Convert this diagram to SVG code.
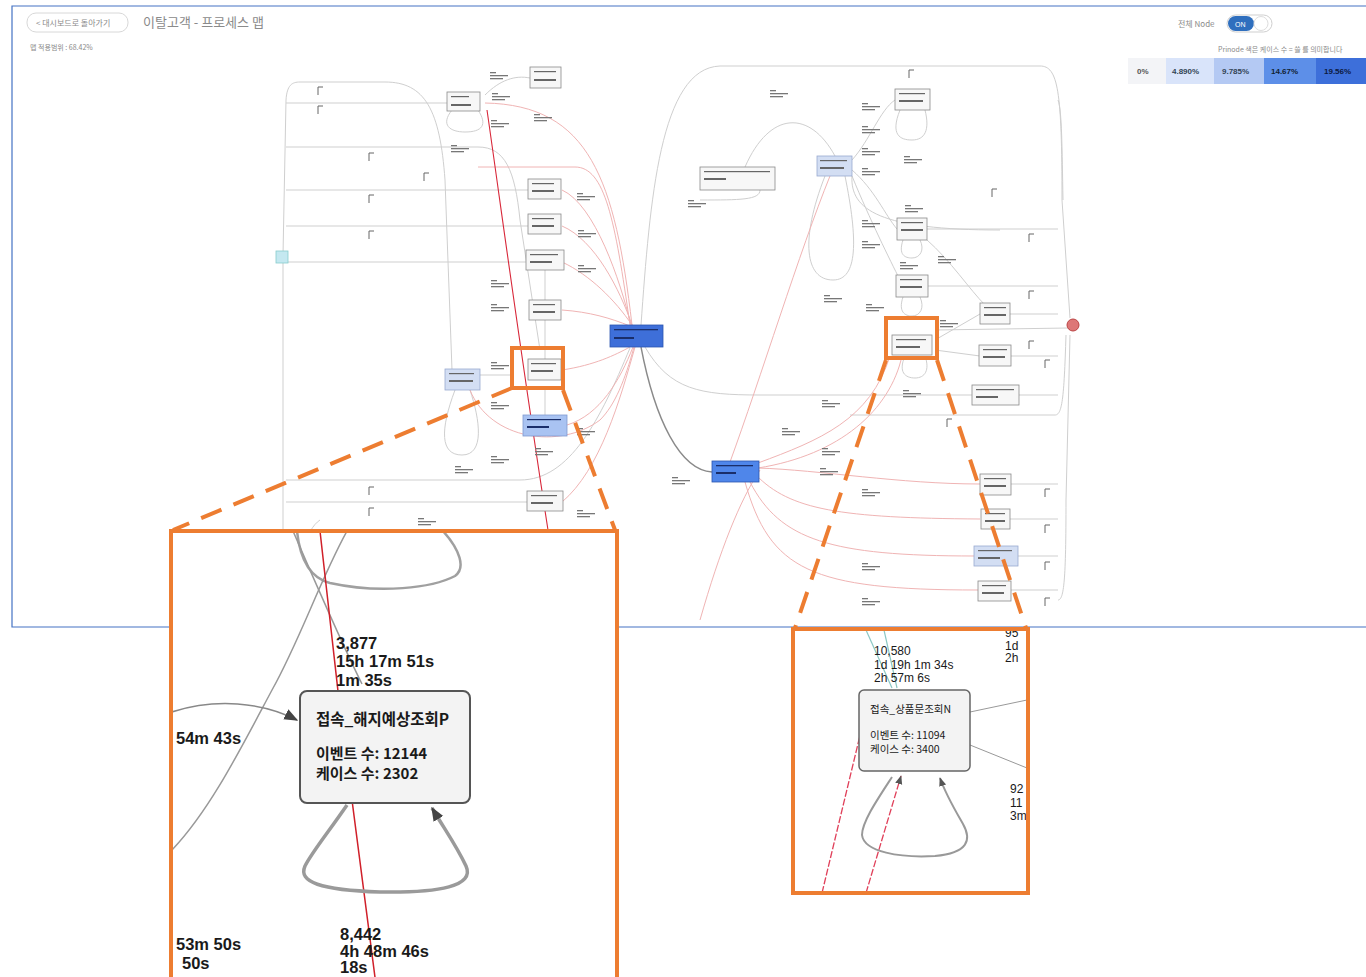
<svg xmlns="http://www.w3.org/2000/svg" xmlns:xlink="http://www.w3.org/1999/xlink" width="1366" height="977" viewBox="0 0 1366 977">
<style>
.frame{stroke:#4472c4;stroke-width:1.2;fill:none}
.e{fill:none;stroke:#cfcfcf;stroke-width:1}
.ep{fill:none;stroke:#f0b4b4;stroke-width:1}
.er{fill:none;stroke:#d8283a;stroke-width:1.1}
.ed{fill:none;stroke:#8a8a8a;stroke-width:1.4}
.n{fill:#f7f7f7;stroke:#8a8a8a;stroke-width:0.8}
.b{fill:#666}
.bw{fill:#1a2e6a}
.orange{fill:none;stroke:#ed7d31;stroke-width:4}
.dash{fill:none;stroke:#ed7d31;stroke-width:4;stroke-dasharray:22 13}
.t{font-family:"Liberation Sans","Noto Sans CJK KR",sans-serif;fill:#1a1a1a}
.k{font-family:"Noto Sans CJK KR","Liberation Sans",sans-serif;fill:#1a1a1a}
.ui{font-family:"Noto Sans CJK KR","Liberation Sans",sans-serif;fill:#8a8a8a}
</style>
<defs>
<g id="lb"><rect x="0" y="0" width="6" height="1.3" fill="#777"/><rect x="0" y="3" width="18" height="1.3" fill="#777"/><rect x="0" y="6" width="13" height="1.3" fill="#777"/></g>
<path id="tk" d="M0,8 L0,0 L5,0" fill="none" stroke="#666" stroke-width="1"/>
<marker id="ah" viewBox="0 0 10 10" refX="9" refY="5" markerUnits="userSpaceOnUse" markerWidth="14" markerHeight="14" orient="auto-start-reverse"><path d="M0,1 L10,5 L0,9 z" fill="#444"/></marker>
<marker id="ah2" viewBox="0 0 10 10" refX="9" refY="5" markerUnits="userSpaceOnUse" markerWidth="9" markerHeight="9" orient="auto-start-reverse"><path d="M0,1 L10,5 L0,9 z" fill="#555"/></marker>
<clipPath id="cl"><rect x="173" y="532" width="442" height="445"/></clipPath>
<clipPath id="cr"><rect x="795" y="630" width="231" height="261"/></clipPath>
</defs>
<rect width="1366" height="977" fill="#ffffff"/>

<!-- screenshot frame -->
<path class="frame" d="M1366,6 L12,6 L12,627 L1366,627"/>

<!-- header -->
<g id="header">
<rect x="27" y="13" width="101" height="19" rx="9" fill="#fff" stroke="#d8d8d8" stroke-width="1"/>
<text class="ui" x="36" y="26" font-size="8">&lt; 대시보드로 돌아가기</text>
<text class="ui" x="143" y="27" font-size="13">이탈고객 - 프로세스 맵</text>
<text class="ui" x="30" y="50" font-size="7" fill="#777">맵 적용범위 : 68.42%</text>
<text class="ui" x="1178" y="27" font-size="8">전체 Node</text>
<rect x="1227" y="15" width="45" height="17" rx="8.5" fill="#fff" stroke="#cfcfcf"/>
<rect x="1228" y="16" width="26" height="15" rx="7.5" fill="#2f6fbe"/>
<text x="1235" y="27" font-size="7" fill="#fff" font-family="Liberation Sans,sans-serif">ON</text>
<circle cx="1261" cy="23.5" r="7" fill="#fff" stroke="#ddd"/>
<text class="ui" x="1218" y="52" font-size="7">Prinode 색은 케이스 수 = 쓸 를 의미합니다</text>
</g>
<g id="legend" font-family="Liberation Sans,sans-serif" font-size="8" font-weight="bold">
<rect x="1128" y="58" width="38" height="26" fill="#f3f4f7"/>
<rect x="1166" y="58" width="48" height="26" fill="#d9e4fa"/>
<rect x="1214" y="58" width="50" height="26" fill="#b4c9f3"/>
<rect x="1264" y="58" width="52" height="26" fill="#5d8fe8"/>
<rect x="1316" y="58" width="50" height="26" fill="#3d6fda"/>
<text x="1137" y="74" fill="#555">0%</text>
<text x="1172" y="74" fill="#345">4.890%</text>
<text x="1222" y="74" fill="#345">9.785%</text>
<text x="1271" y="74" fill="#123">14.67%</text>
<text x="1324" y="74" fill="#0d1a40">19.56%</text>
</g>

<!-- main graph connectors -->
<g id="connectors">
<path class="e" d="M283,255 L283,600"/>
<path class="e" d="M283,255 L286,100 C287,85 292,82 300,82 L385,82 C425,82 440,110 445,180 L452,370"/>
<path class="e" d="M286,103 L447,103"/>
<path class="e" d="M286,147 L478,147 C505,147 515,170 520,220 L540,350"/>
<path class="e" d="M286,190 L528,190"/>
<path class="e" d="M286,226 L528,226"/>
<path class="e" d="M286,262 L528,262"/>
<path class="e" d="M286,480 L520,480 C570,480 600,420 630,348"/>
<path class="e" d="M286,502 L528,502"/>
<path class="e" d="M290,600 C300,560 305,530 320,520"/>
<path class="e" d="M485,95 C500,80 515,75 530,78"/>
<path class="e" d="M545,270 L545,300"/>
<path class="e" d="M545,320 L545,360"/>
<path class="e" d="M545,390 L545,415"/>
<path class="e" d="M480,375 L512,375"/>
<path class="e" d="M455,390 C440,430 440,455 462,455 C485,455 480,420 470,390"/>
<path class="e" d="M452,110 C440,125 450,132 465,132 C482,132 488,125 478,110"/>
<path class="ep" d="M485,103 C590,105 615,180 632,325"/>
<path class="ep" d="M478,167 L575,167 C605,167 615,220 630,325"/>
<path class="ep" d="M562,190 C595,205 620,280 631,325"/>
<path class="ep" d="M562,226 C595,240 620,290 632,325"/>
<path class="ep" d="M562,262 C590,275 615,300 632,325"/>
<path class="ep" d="M562,310 C590,312 610,318 630,326"/>
<path class="ep" d="M562,370 C595,365 615,355 630,347"/>
<path class="ep" d="M567,425 C600,415 620,380 633,347"/>
<path class="ep" d="M470,390 C490,440 560,450 600,420 C615,405 625,380 634,347"/>
<path class="ep" d="M562,502 C600,470 620,400 635,347"/>
<path class="er" d="M487,110 C500,200 520,350 548,530"/>
<path class="ed" d="M641,347 C655,420 680,470 712,472"/>
<path class="e" d="M641,325 C650,200 660,68 720,66 L1040,66 C1058,66 1062,90 1062,200 L1070,318"/>
<path class="e" d="M645,347 C670,390 700,395 760,395 L975,395"/>
<path class="e" d="M850,415 L1055,415 C1062,415 1064,400 1066,335"/>
<path class="e" d="M835,156 C810,110 770,110 745,167"/>
<path class="e" d="M825,176 C800,240 805,280 833,280 C858,280 858,240 845,176"/>
<path class="e" d="M760,190 C760,200 740,200 700,200"/>
<path class="e" d="M852,160 C870,140 880,110 895,100"/>
<path class="e" d="M852,170 C875,190 885,215 897,229"/>
<path class="e" d="M852,176 C870,220 890,260 900,280"/>
<path class="e" d="M900,110 C890,135 900,140 912,140 C925,140 930,130 925,110"/>
<path class="e" d="M903,240 C898,255 905,258 912,258 C920,258 925,250 920,240"/>
<path class="e" d="M903,297 C898,312 905,316 912,316 C920,316 925,308 920,297"/>
<path class="e" d="M905,356 C898,372 905,378 915,378 C925,378 930,370 925,356"/>
<path class="e" d="M927,229 L1058,229"/>
<path class="e" d="M927,286 L1058,286"/>
<path class="e" d="M935,330 L1068,328"/>
<path class="e" d="M935,340 L980,314"/>
<path class="e" d="M935,350 L980,356"/>
<path class="e" d="M927,240 C950,260 970,290 985,305"/>
<path class="e" d="M852,176 C850,210 880,230 1000,230"/>
<path class="e" d="M1010,314 L1058,314"/>
<path class="e" d="M1010,356 L1058,356"/>
<path class="e" d="M1018,395 L1058,395"/>
<path class="e" d="M1010,484 L1058,484"/>
<path class="e" d="M1010,519 L1058,519"/>
<path class="e" d="M1018,556 L1058,556"/>
<path class="e" d="M1010,590 L1058,590"/>
<path class="e" d="M1058,600 C1064,600 1066,580 1066,500 L1070,335"/>
<path class="e" d="M1058,100 C1062,110 1062,150 1063,200"/>
<path class="ep" d="M758,468 C820,470 900,484 980,484"/>
<path class="ep" d="M756,475 C790,510 840,518 980,519"/>
<path class="ep" d="M750,482 C780,540 830,556 975,556"/>
<path class="ep" d="M745,482 C770,570 810,590 978,590"/>
<path class="ep" d="M758,463 C820,440 870,420 890,356"/>
<path class="ep" d="M758,468 C840,455 890,410 902,356"/>
<path class="ep" d="M730,462 C760,380 800,250 830,176"/>
<path class="ep" d="M700,620 C720,550 740,500 760,470"/>
</g>

<!-- small marks (illegible edge labels) -->
<g id="marks">
<use href="#lb" x="490" y="72"/><use href="#lb" x="492" y="93"/><use href="#lb" x="491" y="120"/><use href="#lb" x="534" y="114"/>
<use href="#lb" x="451" y="145"/><use href="#lb" x="577" y="193"/><use href="#lb" x="578" y="230"/><use href="#lb" x="578" y="265"/>
<use href="#lb" x="491" y="280"/><use href="#lb" x="491" y="304"/><use href="#lb" x="491" y="362"/><use href="#lb" x="491" y="402"/>
<use href="#lb" x="535" y="448"/><use href="#lb" x="577" y="428"/><use href="#lb" x="455" y="466"/><use href="#lb" x="491" y="456"/>
<use href="#lb" x="577" y="510"/><use href="#lb" x="418" y="518"/>
<use href="#lb" x="770" y="90"/><use href="#lb" x="688" y="200"/><use href="#lb" x="862" y="103"/><use href="#lb" x="862" y="126"/>
<use href="#lb" x="862" y="148"/><use href="#lb" x="862" y="168"/><use href="#lb" x="904" y="156"/><use href="#lb" x="862" y="220"/>
<use href="#lb" x="862" y="241"/><use href="#lb" x="824" y="295"/><use href="#lb" x="866" y="304"/><use href="#lb" x="938" y="256"/>
<use href="#lb" x="940" y="320"/><use href="#lb" x="903" y="390"/><use href="#lb" x="822" y="400"/><use href="#lb" x="782" y="428"/>
<use href="#lb" x="822" y="448"/><use href="#lb" x="820" y="468"/><use href="#lb" x="862" y="489"/><use href="#lb" x="672" y="477"/>
<use href="#lb" x="862" y="563"/><use href="#lb" x="862" y="598"/><use href="#lb" x="905" y="205"/><use href="#lb" x="900" y="262"/>
<use href="#tk" x="318" y="87"/><use href="#tk" x="318" y="106"/><use href="#tk" x="369" y="153"/><use href="#tk" x="424" y="173"/>
<use href="#tk" x="369" y="195"/><use href="#tk" x="369" y="231"/><use href="#tk" x="369" y="487"/><use href="#tk" x="369" y="508"/>
<use href="#tk" x="909" y="70"/><use href="#tk" x="992" y="189"/><use href="#tk" x="1029" y="234"/><use href="#tk" x="1029" y="291"/>
<use href="#tk" x="1029" y="341"/><use href="#tk" x="1045" y="360"/><use href="#tk" x="947" y="419"/><use href="#tk" x="1045" y="489"/>
<use href="#tk" x="1045" y="525"/><use href="#tk" x="1045" y="562"/><use href="#tk" x="1045" y="598"/>
</g>

<!-- main graph nodes -->
<g id="node-start"><rect x="276" y="251" width="12" height="12" fill="#c4e8f0" stroke="#8cc" stroke-width="0.8"/></g>
<g id="node-l1"><rect class="n" x="447" y="92" width="33" height="19"/><rect class="b" x="451" y="96" width="18" height="1.2"/><rect class="b" x="451" y="104" width="20" height="2"/></g>
<g id="node-l2"><rect class="n" x="530" y="67" width="31" height="21"/><rect class="b" x="534" y="71" width="22" height="1.2"/><rect class="b" x="534" y="79" width="22" height="2"/></g>
<g id="node-l3"><rect class="n" x="528" y="179" width="33" height="20"/><rect class="b" x="532" y="183" width="22" height="1.2"/><rect class="b" x="532" y="190" width="22" height="2"/></g>
<g id="node-l4"><rect class="n" x="528" y="214" width="33" height="20"/><rect class="b" x="532" y="218" width="22" height="1.2"/><rect class="b" x="532" y="225" width="22" height="2"/></g>
<g id="node-l5"><rect class="n" x="526" y="250" width="38" height="20"/><rect class="b" x="530" y="254" width="28" height="1.2"/><rect class="b" x="530" y="261" width="22" height="2"/></g>
<g id="node-l6"><rect class="n" x="529" y="300" width="32" height="20"/><rect class="b" x="533" y="304" width="22" height="1.2"/><rect class="b" x="533" y="311" width="22" height="2"/></g>
<g id="node-l7"><rect class="n" x="528" y="359" width="33" height="21"/><rect class="b" x="531" y="363" width="25" height="1.2"/><rect class="b" x="531" y="370" width="22" height="2"/></g>
<g id="node-l8"><rect x="445" y="369" width="35" height="21" fill="#d3def3" stroke="#9aaad0" stroke-width="0.8"/><rect class="b" x="449" y="373" width="25" height="1.2"/><rect class="b" x="449" y="380" width="24" height="2"/></g>
<g id="node-l9"><rect x="523" y="415" width="44" height="21" fill="#a9c3f2" stroke="#7f9ad0" stroke-width="0.8"/><rect class="bw" x="527" y="419" width="34" height="1.2"/><rect class="bw" x="527" y="426" width="22" height="2"/></g>
<g id="node-l10"><rect class="n" x="527" y="491" width="36" height="20"/><rect class="b" x="531" y="495" width="26" height="1.2"/><rect class="b" x="531" y="502" width="22" height="2"/></g>
<g id="node-hub1"><rect x="610" y="325" width="53" height="22" fill="#3e6fd9" stroke="#2b56b0" stroke-width="0.8"/><rect class="bw" x="614" y="329" width="44" height="1.3"/><rect class="bw" x="614" y="337" width="20" height="2"/></g>
<g id="node-hub2"><rect x="712" y="461" width="47" height="21" fill="#4f86ea" stroke="#2b56b0" stroke-width="0.8"/><rect class="bw" x="716" y="465" width="37" height="1.3"/><rect class="bw" x="716" y="472" width="20" height="2"/></g>
<g id="node-r1"><rect x="817" y="156" width="35" height="20" fill="#d3def3" stroke="#9aaad0" stroke-width="0.8"/><rect class="b" x="820" y="160" width="27" height="1.2"/><rect class="b" x="820" y="167" width="24" height="2"/></g>
<g id="node-r2"><rect class="n" x="700" y="167" width="75" height="23"/><rect class="b" x="704" y="171" width="66" height="1.2"/><rect class="b" x="704" y="178" width="22" height="2"/></g>
<g id="node-r3"><rect class="n" x="895" y="89" width="35" height="21"/><rect class="b" x="899" y="93" width="26" height="1.2"/><rect class="b" x="899" y="100" width="24" height="2"/></g>
<g id="node-r4"><rect class="n" x="897" y="218" width="30" height="22"/><rect class="b" x="901" y="222" width="22" height="1.2"/><rect class="b" x="901" y="229" width="22" height="2"/></g>
<g id="node-r5"><rect class="n" x="896" y="275" width="32" height="22"/><rect class="b" x="900" y="279" width="22" height="1.2"/><rect class="b" x="900" y="286" width="22" height="2"/></g>
<g id="node-r6"><rect class="n" x="892" y="335" width="40" height="20"/><rect class="b" x="896" y="339" width="30" height="1.2"/><rect class="b" x="896" y="346" width="24" height="2"/></g>
<g id="node-r7"><rect class="n" x="980" y="303" width="30" height="21"/><rect class="b" x="984" y="307" width="22" height="1.2"/><rect class="b" x="984" y="314" width="22" height="2"/></g>
<g id="node-r8"><rect class="n" x="979" y="345" width="32" height="21"/><rect class="b" x="983" y="349" width="24" height="1.2"/><rect class="b" x="983" y="356" width="22" height="2"/></g>
<g id="node-r9"><rect class="n" x="972" y="385" width="47" height="20"/><rect class="b" x="976" y="389" width="38" height="1.2"/><rect class="b" x="976" y="396" width="22" height="2"/></g>
<g id="node-r10"><rect class="n" x="980" y="474" width="31" height="21"/><rect class="b" x="984" y="478" width="22" height="1.2"/><rect class="b" x="984" y="485" width="22" height="2"/></g>
<g id="node-r11"><rect class="n" x="981" y="509" width="29" height="20"/><rect class="b" x="985" y="513" width="20" height="1.2"/><rect class="b" x="985" y="520" width="20" height="2"/></g>
<g id="node-r12"><rect x="974" y="546" width="44" height="20" fill="#d3def3" stroke="#9aaad0" stroke-width="0.8"/><rect class="b" x="978" y="550" width="34" height="1.2"/><rect class="b" x="978" y="557" width="22" height="2"/></g>
<g id="node-r13"><rect class="n" x="978" y="581" width="33" height="20"/><rect class="b" x="982" y="585" width="24" height="1.2"/><rect class="b" x="982" y="592" width="22" height="2"/></g>
<g id="node-end"><circle cx="1073" cy="325" r="6" fill="#d77" stroke="#b44" stroke-width="1"/></g>

<!-- zoom callouts -->
<g id="callouts">
<rect class="orange" x="512" y="348" width="51" height="40"/>
<rect class="orange" x="886" y="318" width="51" height="40"/>
<path class="dash" d="M512,388 L173,530"/>
<path class="dash" d="M563,390 L615,530"/>
<path class="dash" d="M886,360 L795,628"/>
<path class="dash" d="M937,360 L1026,628"/>
</g>

<!-- left inset -->
<g id="inset-left">
<rect x="171" y="531" width="446" height="460" fill="#ffffff"/>
<g clip-path="url(#cl)">
<path d="M297,531 C300,560 310,578 330,583 C380,594 432,588 455,576 C466,568 460,550 443,531" fill="none" stroke="#a0a0a0" stroke-width="2.5"/>
<path d="M293,531 C310,570 340,640 362,684" fill="none" stroke="#999" stroke-width="1.5"/>
<path d="M347,531 C320,580 300,640 272,690 C240,750 210,810 172,850" fill="none" stroke="#999" stroke-width="1.5"/>
<path d="M320,531 C328,600 333,650 339,700 L376,985" fill="none" stroke="#d0202a" stroke-width="1.5"/>
<path d="M172,712 C215,698 262,702 297,720" fill="none" stroke="#888" stroke-width="1.6" marker-end="url(#ah)"/>
<path d="M347,805 C330,830 312,852 305,866 C298,882 320,890 380,892 C440,893 475,886 466,866 C456,845 445,830 432,808" fill="none" stroke="#9a9a9a" stroke-width="3.5" marker-end="url(#ah)"/>
<g id="node-zoom-left">
<rect x="300" y="691" width="170" height="112" rx="7" fill="#f3f3f3" stroke="#555" stroke-width="2"/>
<text class="k" x="316" y="725" font-size="15.5" font-weight="bold">접속_해지예상조회P</text>
<text class="k" x="316" y="759" font-size="15" font-weight="bold">이벤트 수: 12144</text>
<text class="k" x="316" y="779" font-size="15" font-weight="bold">케이스 수: 2302</text>
</g>
<g class="t" font-size="16.5" font-weight="bold">
<text x="336" y="649">3,877</text>
<text x="336" y="667">15h 17m 51s</text>
<text x="336" y="686">1m 35s</text>
<text x="176" y="744">54m 43s</text>
<text x="176" y="950">53m 50s</text>
<text x="182" y="969">50s</text>
<text x="340" y="940">8,442</text>
<text x="340" y="957">4h 48m 46s</text>
<text x="340" y="973">18s</text>
</g>
</g>
<rect class="orange" x="171" y="531" width="446" height="460"/>
</g>

<!-- right inset -->
<g id="inset-right">
<rect x="793" y="629" width="235" height="264" fill="#ffffff"/>
<g clip-path="url(#cr)">
<path d="M866,630 L892,688" fill="none" stroke="#8cc8c4" stroke-width="1.2"/>
<path d="M884,630 L897,688" fill="none" stroke="#8cc8c4" stroke-width="1.2"/>
<path d="M822,893 L871,690" fill="none" stroke="#e0405a" stroke-width="1.3" stroke-dasharray="7 2"/>
<path d="M866,893 L901,776" fill="none" stroke="#e0405a" stroke-width="1.3" stroke-dasharray="7 2" marker-end="url(#ah2)"/>
<path d="M970,712 L1027,700" fill="none" stroke="#999" stroke-width="1"/>
<path d="M970,745 L1027,768" fill="none" stroke="#999" stroke-width="1"/>
<path d="M892,777 C877,800 862,822 862,835 C864,852 900,858 935,856 C968,853 972,840 963,824 C955,810 946,795 940,778" fill="none" stroke="#999" stroke-width="2" marker-end="url(#ah2)"/>
<g id="node-zoom-right">
<rect x="859" y="690" width="111" height="81" rx="5" fill="#f3f3f3" stroke="#666" stroke-width="1.5"/>
<text class="k" x="870" y="713" font-size="10.5">접속_상품문조회N</text>
<text class="k" x="870" y="739" font-size="10.5">이벤트 수: 11094</text>
<text class="k" x="870" y="753" font-size="10.5">케이스 수: 3400</text>
</g>
<g class="t" font-size="12">
<text x="874" y="655">10,580</text>
<text x="874" y="669">1d 19h 1m 34s</text>
<text x="874" y="682">2h 57m 6s</text>
<text x="1005" y="637">95</text>
<text x="1005" y="650">1d</text>
<text x="1005" y="662">2h</text>
<text x="1010" y="793">92</text>
<text x="1010" y="807">11</text>
<text x="1010" y="820">3m</text>
</g>
</g>
<rect class="orange" x="793" y="629" width="235" height="264"/>
</g>
</svg>
